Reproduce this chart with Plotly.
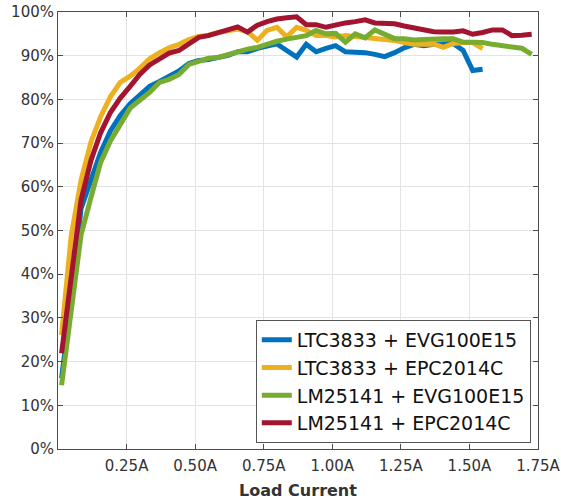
import plotly.graph_objects as go

load_current = [0.013, 0.048, 0.084, 0.120, 0.155, 0.191, 0.227, 0.263, 0.298, 0.334,
                0.370, 0.405, 0.441, 0.477, 0.513, 0.548, 0.584, 0.620, 0.655, 0.691,
                0.727, 0.762, 0.798, 0.834, 0.870, 0.905, 0.941, 0.977, 1.012, 1.048,
                1.084, 1.120, 1.155, 1.191, 1.227, 1.262, 1.298, 1.334, 1.370, 1.405,
                1.441, 1.477, 1.512, 1.548, 1.584, 1.620, 1.655, 1.691, 1.727]

ltc_evg = [16.2, 34.0, 55.0, 61.5, 67.8, 72.8, 76.3, 79.0, 80.9, 83.0,
           84.1, 85.3, 86.5, 88.2, 88.9, 89.1, 89.6, 90.1, 90.9, 90.9,
           91.7, 92.1, 92.7, 91.2, 89.7, 92.6, 90.9, 91.7, 92.3, 90.9,
           90.9, 90.7, 90.3, 89.8, 90.7, 91.8, 92.6, 92.3, 92.6, 92.8,
           92.8, 91.2, 86.6, 86.9]

ltc_epc = [26.1, 48.7, 61.5, 70.2, 76.0, 80.6, 83.9, 85.3, 87.1, 89.3,
           90.7, 91.8, 92.6, 93.7, 94.4, 94.7, 95.3, 95.8, 96.1, 95.5,
           93.5, 95.8, 96.5, 94.3, 96.5, 95.8, 94.6, 94.6, 94.3, 94.6,
           94.4, 94.2, 93.9, 93.9, 93.5, 93.0, 92.6, 92.6, 92.7, 91.9,
           92.8, 93.0, 93.0, 91.6]

lm_evg = [14.6, 31.0, 49.0, 57.5, 65.5, 70.5, 74.3, 78.0, 79.8, 81.6,
          83.9, 84.6, 85.7, 88.0, 88.7, 89.4, 89.6, 90.2, 91.0, 91.5,
          91.9, 92.7, 93.3, 93.8, 94.1, 94.6, 95.8, 95.0, 95.1, 93.1,
          95.0, 94.1, 95.9, 95.0, 93.9, 93.9, 93.6, 93.7, 93.9, 93.9,
          93.9, 93.1, 93.1, 93.0, 92.6, 92.3, 92.2, 91.7, 90.3]

lm_epc = [21.9, 40.0, 57.0, 66.0, 72.3, 77.0, 80.3, 83.0, 85.7, 87.9,
          89.4, 90.6, 91.2, 92.8, 94.2, 94.6, 95.3, 96.0, 96.6, 95.4,
          97.0, 97.8, 98.4, 98.7, 98.9, 97.1, 97.1, 96.5, 97.1, 97.5,
          97.8, 98.2, 97.5, 97.5, 97.3, 96.8, 96.3, 95.9, 95.5, 95.4,
          95.4, 95.7, 94.9, 95.3, 95.9, 95.9, 94.6, 94.7, 94.9]

series_names = ["LTC3833 + EVG100E15", "LTC3833 + EPC2014C",
                "LM25141 + EVG100E15", "LM25141 + EPC2014C"]
series_values = [ltc_evg, ltc_epc, lm_evg, lm_epc]
series_colors = ["#0072BD", "#EDB120", "#77AC30", "#A2142F"]

x_ticks = [0.25, 0.50, 0.75, 1.00, 1.25, 1.50, 1.75]
y_ticks = [0, 10, 20, 30, 40, 50, 60, 70, 80, 90, 100]

FONT = "DejaVu Sans, Arial, sans-serif"

fig = go.Figure()
for name, vals, col in zip(series_names, series_values, series_colors):
    fig.add_trace(go.Scatter(
        x=load_current[:len(vals)], y=vals, mode="lines", name=name,
        line=dict(color=col, width=5, shape="linear"),
    ))

axis_common = dict(
    showline=True, linecolor="#4d4d4d", linewidth=1, mirror="ticks",
    ticks="inside", ticklen=5, tickcolor="#4d4d4d", tickwidth=1,
    showgrid=True, gridcolor="#e3e3e3", gridwidth=1, zeroline=False,
    automargin=False,
    tickfont=dict(family=FONT, size=15, color="#333333"),
)

fig.update_xaxes(range=[0, 1.75], tickvals=x_ticks,
                 ticktext=[f"{v:.2f}A" for v in x_ticks],
                 ticklabelstandoff=3,
                 title=dict(text="<b>Load Current</b>", standoff=10,
                            font=dict(family=FONT, size=16, color="#333333")),
                 **axis_common)
fig.update_yaxes(range=[0, 100], tickvals=y_ticks,
                 ticktext=[f"{v}%" for v in y_ticks], **axis_common)

fig.update_layout(
    width=561, height=500,
    margin=dict(l=58, r=23, t=12, b=51),
    plot_bgcolor="white", paper_bgcolor="white",
    hovermode=False,
    legend=dict(
        x=0.985, y=0.014, xanchor="right", yanchor="bottom",
        bgcolor="white", bordercolor="#555555", borderwidth=1,
        font=dict(family=FONT, size=19, color="#111111"),
        tracegroupgap=0, itemwidth=30,
    ),
    showlegend=True,
)

# remove the browser's default page margin so the figure sits at the top-left corner
fig.write_html("out.html", config={"displayModeBar": False},
               post_script="document.body.style.margin='0';")
